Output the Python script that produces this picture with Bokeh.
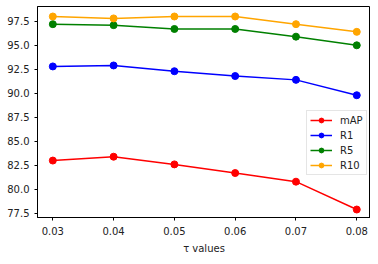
from bokeh.plotting import figure
from bokeh.embed import file_html
from bokeh.resources import INLINE
from bokeh.models import Range1d, FixedTicker, NumeralTickFormatter

tau = [0.03, 0.04, 0.05, 0.06, 0.07, 0.08]
mAP = [83.0, 83.4, 82.6, 81.7, 80.8, 77.9]
R1 = [92.8, 92.9, 92.3, 91.8, 91.4, 89.8]
R5 = [97.2, 97.1, 96.7, 96.7, 95.9, 95.0]
R10 = [98.0, 97.8, 98.0, 98.0, 97.2, 96.4]
series = [("mAP", mAP, "red"), ("R1", R1, "blue"), ("R5", R5, "green"), ("R10", R10, "orange")]
y_ticks = [77.5, 80.0, 82.5, 85.0, 87.5, 90.0, 92.5, 95.0, 97.5]

p = figure(width=370, height=256, output_backend="svg", toolbar_location=None,
           x_range=Range1d(0.02748, 0.08226), y_range=Range1d(77.07, 99.04),
           min_border_left=37, min_border_right=0, min_border_top=6, min_border_bottom=32)

for name, vals, col in series:
    p.line(tau, vals, line_color=col, line_width=1.5, legend_label=name)
    p.scatter(tau, vals, fill_color=col, line_color=col, size=7, legend_label=name)

p.xgrid.visible = False
p.ygrid.visible = False
p.outline_line_color = "black"
p.outline_line_width = 1
p.xaxis.ticker = FixedTicker(ticks=tau)
p.yaxis.ticker = FixedTicker(ticks=y_ticks)
p.xaxis.formatter = NumeralTickFormatter(format="0.00")
p.yaxis.formatter = NumeralTickFormatter(format="0.0")
for ax in (p.xaxis[0], p.yaxis[0]):
    ax.major_label_text_font = "DejaVu Sans"
    ax.major_label_text_font_size = "10px"
    ax.major_label_text_color = "#222222"
    ax.major_tick_out = 3
    ax.major_tick_in = 0
    ax.minor_tick_out = 0
    ax.minor_tick_in = 0
    ax.axis_line_color = "black"
    ax.major_tick_line_color = "black"
p.xaxis.major_label_standoff = 6
p.yaxis.major_label_standoff = 5
p.xaxis.axis_label = "τ values"
p.xaxis.axis_label_text_font = "DejaVu Sans"
p.xaxis.axis_label_text_font_style = "normal"
p.xaxis.axis_label_text_font_size = "10px"
p.xaxis.axis_label_text_color = "#222222"
p.xaxis.axis_label_standoff = 5

lg = p.legend[0]
lg.location = (269, 42)
lg.label_text_font = "DejaVu Sans"
lg.label_text_font_size = "10px"
lg.label_text_color = "#222222"
lg.glyph_width = 22
lg.glyph_height = 12
lg.label_height = 12
lg.label_standoff = 8
lg.spacing = 3
lg.padding = 3
lg.margin = 0
lg.border_line_color = "#cccccc"
lg.background_fill_alpha = 0.8

open("out.html", "w").write(file_html(p, INLINE))
